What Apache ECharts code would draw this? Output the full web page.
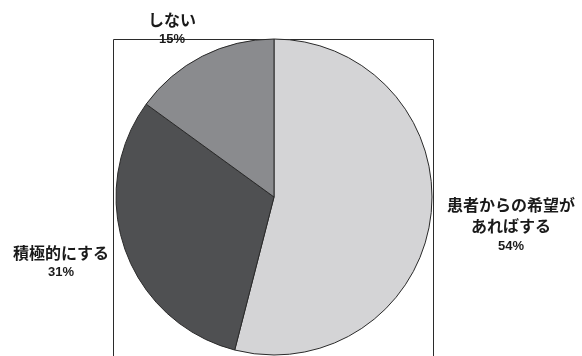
<!DOCTYPE html>
<html>
<head>
<meta charset="utf-8">
<script src="https://cdn.jsdelivr.net/npm/echarts@6/dist/echarts.min.js"></script>
<style>
  html, body { margin: 0; padding: 0; background: #ffffff; }
  #chart { width: 582px; height: 356px; }
</style>
</head>
<body>
<div id="chart"></div>
<script>
// Answer categories and shares (%)
const categories = ['患者からの希望が\nあればする', '積極的にする', 'しない'];
const shares = [54, 31, 15];
const sliceColors = ['#d4d4d6', '#4f5052', '#8a8b8e'];

// Label anchor points (centre of each label block)
const labelAnchors = [[511, 225], [61, 262], [172, 29]];

const chart = echarts.init(document.getElementById('chart'), null, { renderer: 'canvas' });

const data = categories.map((name, i) => ({
  name: name,
  value: shares[i],
  itemStyle: { color: sliceColors[i] }
}));

chart.setOption({
  animation: false,
  backgroundColor: '#ffffff',
  graphic: [{
    type: 'rect',
    z: 0,
    silent: true,
    shape: { x: 113.5, y: 39.5, width: 320, height: 340 },
    style: { fill: 'none', stroke: '#2b2b2b', lineWidth: 1 }
  }],
  series: [{
    type: 'pie',
    z: 2,
    center: [274, 197],
    radius: 158,
    startAngle: 90,
    clockwise: true,
    data: data,
    itemStyle: { borderColor: '#2a2a2a', borderWidth: 1 },
    emphasis: { disabled: true },
    labelLine: { show: false },
    label: {
      show: true,
      position: 'outside',
      overflow: 'none',
      width: 200,
      formatter: p => p.name.split('\n').map(s => '{t|' + s + '}').join('\n') + '\n{p|' + p.value + '%}',
      align: 'center',
      rich: {
        t: {
          fontFamily: '"Noto Sans CJK JP", sans-serif',
          fontWeight: 'bold',
          fontSize: 16,
          lineHeight: 21,
          color: '#1a1a1a',
          align: 'center'
        },
        p: {
          fontFamily: '"Liberation Sans", Arial, sans-serif',
          fontWeight: 'bold',
          fontSize: 13,
          lineHeight: 19,
          color: '#1a1a1a',
          align: 'center'
        }
      }
    },
    labelLayout: function (params) {
      const a = labelAnchors[params.dataIndex];
      return { x: a[0], y: a[1], align: 'center', verticalAlign: 'middle' };
    }
  }]
});
</script>
</body>
</html>
